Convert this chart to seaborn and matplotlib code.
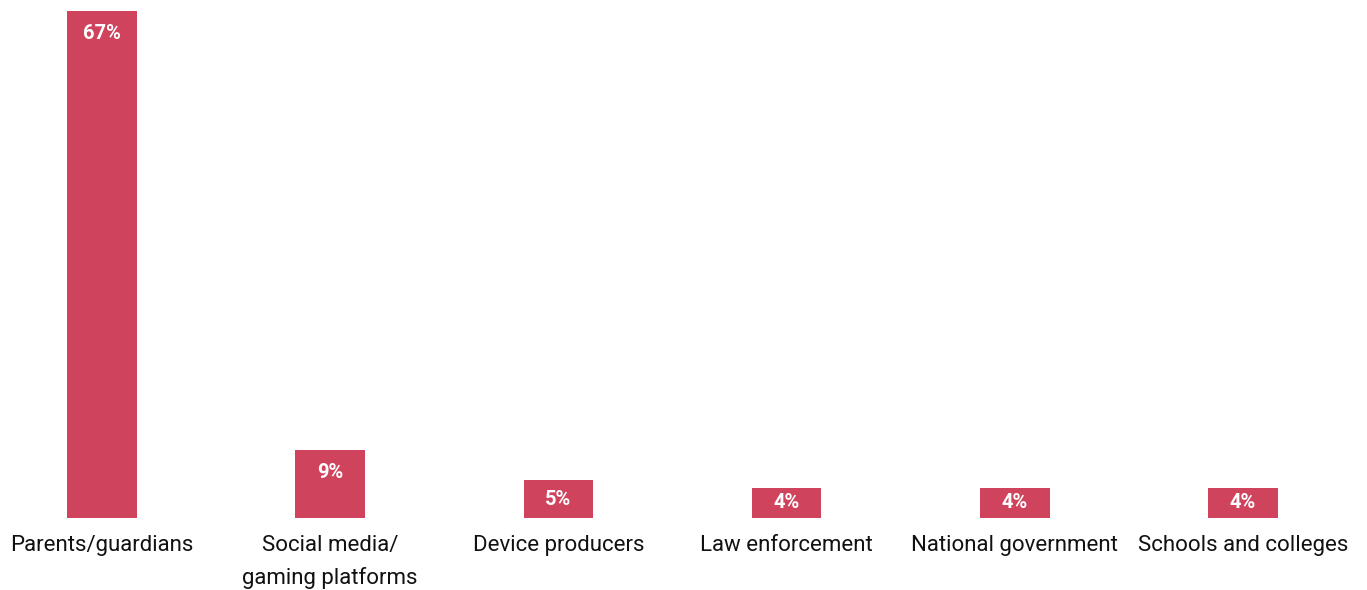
import pandas as pd
import matplotlib
matplotlib.use("Agg")
import matplotlib.pyplot as plt
import seaborn as sns

# data
categories = ["Parents/guardians", "Social media/\ngaming platforms", "Device producers",
              "Law enforcement", "National government", "Schools and colleges"]
values = [67, 9, 5, 4, 4, 4]

df = pd.DataFrame({"who": categories, "pct": values})

sns.set_style("white")
plt.rcParams["font.family"] = ["Roboto", "DejaVu Sans"]

fig = plt.figure(figsize=(13.67, 5.9), dpi=100)
ax = fig.add_axes([0, 72 / 590, 1, 507 / 590])

bar_col = "#CF435D"
sns.barplot(data=df, x="who", y="pct", color=bar_col, width=0.305, saturation=1,
            linewidth=0, ax=ax)

ax.set_xlim(-102 / 228.2, (1367 - 102) / 228.2)
ax.set_ylim(0, 67)

# value labels inside the bars
for i, v in enumerate(values):
    ax.text(i, v - min(3.0, v / 2), f"{v}%", color="white", fontsize=14.5,
            fontweight="bold", ha="center", va="center")

ax.set_xlabel("")
ax.set_ylabel("")
ax.set_yticks([])
ax.tick_params(axis="x", length=0, pad=12, labelsize=16, labelcolor="#111111")
for lab in ax.get_xticklabels():
    lab.set_linespacing(1.65)
for s in ax.spines.values():
    s.set_visible(False)

fig.savefig("out.png", dpi=100)
